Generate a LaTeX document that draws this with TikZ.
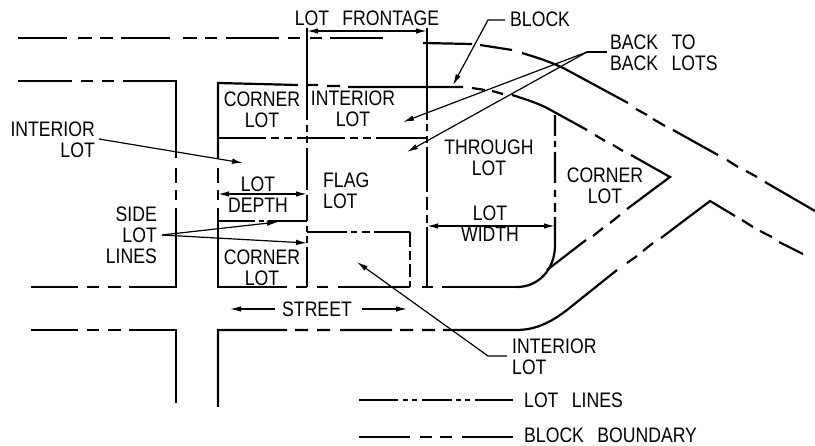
\documentclass[tikz,border=0pt]{standalone}
\usepackage{fontspec}
\setmainfont[FakeStretch=0.84]{Liberation Sans}
\usetikzlibrary{arrows.meta}
\tikzset{
  heavy/.style={line width=2.2pt,line join=miter},
  midl/.style={line width=1.4pt},
  lead/.style={line width=1.2pt,-{Latex[length=11pt,width=5.5pt]}},
  plainlead/.style={line width=1.2pt},
  dimn/.style={line width=1.4pt,{Latex[length=11pt,width=5.5pt]}-{Latex[length=11pt,width=5.5pt]}},
  lbl/.style={font=\fontsize{21}{21}\selectfont,align=center,inner sep=0pt},
  lbll/.style={lbl,align=left,anchor=west},
  lblr/.style={lbl,align=right,anchor=east},
}
\begin{document}
\begin{tikzpicture}[x=1pt,y=-1pt]
\useasboundingbox (0,0) rectangle (815,446);
\fill[white] (0,0) rectangle (815,446);
% upper street edge
\draw[heavy] (18,38)--(67,38) (78,38)--(92,38) (100,38)--(113,38) (121,38)--(170,38)
  (183,38)--(197,38) (205,38)--(217,38) (226,38)--(279,38) (288,38)--(300,38) (310,38)--(322,38) (330,38)--(383,38);
\draw[heavy] (423,43)--(472,44) (480,45)--(512,50)
  (522,53) .. controls (535,57) and (552,62) .. (567,70) -- (628,103)
  (636,109)--(647,115) (653,119)--(665,126) (673,130)--(718,155) (727,160)--(738,167)
  (746,171)--(757,177) (765,182)--(815,211);
% left blocks
\draw[heavy] (18,81)--(72,81) (81,81)--(93,81) (102,81)--(114,81) (123,81)--(176,81)--(176,158)
  (176,168)--(176,183) (176,190)--(176,200) (176,208)--(176,287)--(129,287)
  (121,287)--(108,287) (99,287)--(87,287) (78,287)--(31,287);
\draw[heavy] (31,330)--(78,330) (87,330)--(99,330) (108,330)--(121,330) (129,330)--(176,330)--(176,403);
% lower street edge
\draw[heavy] (218,407)--(218,330)--(287,330) (295,330)--(308,330) (317,330)--(330,330) (340,330)--(392,330)
  (400,330)--(413,330) (422,330)--(435,330)
  (443,330)--(516,330) .. controls (535,330) and (550,323) .. (567,310) -- (617,270)
  (627,263)--(637,256) (643,251)--(653,243) (661,238)--(710,201)--(735,216)
  (742,220)--(753,227) (760,231)--(772,237) (779,242)--(803,254);
% block boundary
\draw[heavy] (218,158)--(218,83)--(298,85) (308,85)--(318,85) (327,86)--(340,86) (348,87)--(463,87)
  (472,88)--(485,90) (492,91)--(503,94)
  (512,95) .. controls (525,99) and (537,103) .. (547,108) -- (587,130)
  (595,135)--(605,141) (613,145)--(623,151) (631,155)--(670,177)--(627,209)
  (620,215)--(610,223) (603,228)--(593,236) (586,240)--(547,270);
\draw[heavy] (218,168)--(218,183) (218,190)--(218,200) (218,208)--(218,287)--(287,287)
  (296,287)--(307,287) (317,287)--(328,287) (338,287)--(410,287) (422,287)--(433,287)
  (442,287)--(517,287);
% lot lines
\draw[heavy] (307,28)--(307,120) (307,125)--(307,132) (307,136)--(307,143) (307,148)--(307,190)
  (307,195)--(307,221) (307,226)--(307,232) (307,236)--(307,243) (307,247)--(307,287);
\draw[heavy] (427,28)--(427,120) (427,124)--(427,131) (427,136)--(427,143) (427,147)--(427,192)
  (427,197)--(427,210) (427,215)--(427,223) (427,227)--(427,287);
\draw[heavy] (555,115)--(555,136) (555,141)--(555,147) (555,152)--(555,183) (555,190)--(555,197) (555,203)--(555,212)
  (555,217)--(555,245) .. controls (555,270) and (538,287) .. (517,287);
\draw[midl] (218,138)--(266,138) (271,138)--(279,138) (284,138)--(292,138) (297,138)--(345,138)
  (350,138)--(358,138) (363,138)--(371,138) (376,138)--(427,138);
\draw[heavy] (218,221)--(255,221) (259,221)--(264,221) (268,221)--(307,221);
\draw[midl] (307,232)--(347,232) (351,232)--(357,232) (362,232)--(370,232) (374,232)--(410,232);
\draw[heavy] (410,232)--(410,247) (410,251)--(410,260) (410,264)--(410,277) (410,281)--(410,287);
% labels
\node[lbl] (frontage) at (367,18) {LOT\hspace{0.4em} FRONTAGE};
\node[lbll] (block) at (510,19) {BLOCK};
\node[lbll] (backlots) at (610,52.5) {BACK\hspace{0.4em} TO\\BACK\hspace{0.4em} LOTS};
\node[lbl] (cornera) at (262,110) {CORNER\\LOT};
\node[lbl] (interiora) at (353,109) {INTERIOR\\LOT};
\node[lblr] (interiorb) at (95,140) {INTERIOR\\LOT};
\node[lbl] (through) at (489,158) {THROUGH\\LOT};
\node[lbl] (cornerb) at (605,186) {CORNER\\LOT};
\node[lbll] (flag) at (323,191) {FLAG\\LOT};
\node[lbl] (depth) at (258,195) {LOT\\DEPTH};
\node[lbl] (width) at (490,224) {LOT\\WIDTH};
\node[lblr] (side) at (157,235) {SIDE\\LOT\\LINES};
\node[lbl] (cornerc) at (262,268) {CORNER\\LOT};
\node[lbl] (street) at (317,309) {STREET};
\node[lbll] (interiorc) at (512,357) {INTERIOR\\LOT};
\node[lbll] (ll) at (524,400) {LOT\hspace{0.4em} LINES};
\node[lbll] (bb) at (524,435) {BLOCK\hspace{0.4em} BOUNDARY};
% anchors
\coordinate (fl) at (307,31); \coordinate (fr) at (427,31);
\coordinate (blocktip) at (453,85); \coordinate (blockelbow) at (488,20); \coordinate (blockend) at (505,20);
\coordinate (bk) at (607,52); \coordinate (bke) at (587,52);
\coordinate (bt1) at (403,122); \coordinate (bt2) at (407,152);
\coordinate (intip) at (243,163); \coordinate (instart) at (99,139);
\coordinate (dl) at (218,194); \coordinate (dr) at (307,194);
\coordinate (wl) at (427,226); \coordinate (wr) at (555,226);
\coordinate (sstart) at (162,235); \coordinate (s1) at (278,222); \coordinate (s2) at (307,243);
\coordinate (sl1) at (230,309); \coordinate (sl2) at (275,309);
\coordinate (sr1) at (362,309); \coordinate (sr2) at (407,309);
\coordinate (itip) at (357,262); \coordinate (iel) at (488,356); \coordinate (ien) at (507,356);
% dims and leaders
\draw[dimn] (fl) -- (fr);
\draw[dimn] (dl) -- (dr);
\draw[dimn] (wl) -- (wr);
\draw[lead] (blockend) -- (blockelbow) -- (blocktip);
\draw[plainlead] (bk) -- (bke);
\draw[lead] (bke) -- (bt1);
\draw[lead] (bke) -- (bt2);
\draw[lead] (instart) -- (intip);
\draw[lead] (sstart) -- (s1);
\draw[lead] (sstart) -- (s2);
\draw[lead] (sl2) -- (sl1);
\draw[lead] (sr1) -- (sr2);
\draw[lead] (ien) -- (iel) -- (itip);
% legend
\draw[heavy] (359,400)--(398,400) (403,400)--(408,400) (412,400)--(417,400) (422,400)--(452,400)
  (456,400)--(461,400) (465,400)--(470,400) (475,400)--(513,400);
\draw[heavy] (359,437)--(410,437) (420,437)--(432,437) (440,437)--(452,437) (462,437)--(513,437);
\end{tikzpicture}
\end{document}
